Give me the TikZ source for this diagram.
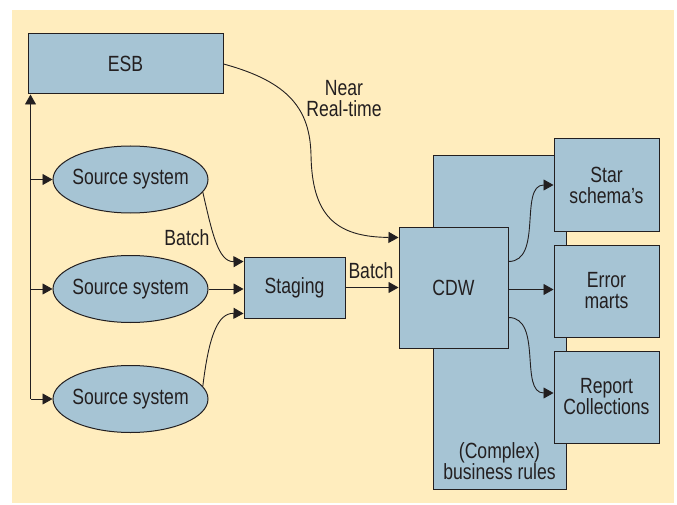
\documentclass[tikz,border=0pt]{standalone}
\usepackage{fontspec}
\setmainfont[FakeStretch=0.8]{Liberation Sans}
\usepackage{tikz}
\usetikzlibrary{arrows.meta,calc}
\usetikzlibrary{positioning,shapes.geometric}

\definecolor{paper}{RGB}{255,237,190}
\definecolor{boxblue}{RGB}{166,196,212}
\definecolor{edge}{RGB}{35,31,32}

\begin{document}
\begin{tikzpicture}[
  x=1pt, y=-1pt,
  font=\fontsize{22}{21}\selectfont,
  box/.style={draw=edge, fill=boxblue, line width=1pt, inner sep=0pt, align=center,
    text=edge},
  src/.style={ellipse, draw=edge, fill=boxblue, line width=1pt, inner ysep=0pt,
    inner xsep=-30pt, minimum width=155pt, minimum height=67pt, text=edge},
  flow/.style={-{Triangle[length=10pt,width=11pt]}, line width=0.9pt, color=edge},
  lbl/.style={align=center, inner sep=0pt, text=edge}
  ]

  % Background
  \useasboundingbox (0,0) rectangle (677,505);
  \fill[paper] (12,10) rectangle (674,503);

  % Sources
  \node[box, minimum width=195pt, minimum height=60pt] (esb) at (125.5,64) {ESB};
  \node[src] (src1) at (130.5,179.5) {Source system};
  \node[src] (src2) at (130.5,289) {Source system};
  \node[src] (src3) at (130.5,399) {Source system};

  % Staging and warehouse
  \node[box, minimum width=101pt, minimum height=61pt] (stg) at (294.5,287.5) {Staging};
  \node[box, minimum width=133pt, minimum height=333pt] (rules) at (499.5,322.5) {};
  \node[lbl, above=10pt of rules.south] (rulestxt) {(Complex)\\business rules};
  \node[box, minimum width=109pt, minimum height=121pt] (cdw) at (453.5,287.5) {CDW};

  % Outputs
  \node[box, minimum width=105pt, minimum height=92pt] (star) at (606.5,185) {Star\\schema's};
  \node[box, minimum width=105pt, minimum height=92pt] (err) at (606.5,291) {Error\\marts};
  \node[box, minimum width=105pt, minimum height=92pt] (rep) at (606.5,397) {Report\\Collections};

  % Labels
  \node[lbl] (nrt) at (344,99) {Near\\Real-time};
  \node[lbl] (batch1) at (187,238) {Batch};
  \node[lbl] (batch2) at (371,271) {Batch};

  % Spine on the left
  \coordinate (spinetop) at ([xshift=3pt]esb.south west);
  \draw[flow] (src3.west -| spinetop) -- (spinetop);
  \draw[flow] (src1.west -| spinetop) -- (src1.west);
  \draw[flow] (src2.west -| spinetop) -- (src2.west);
  \draw[flow] (src3.west -| spinetop) -- (src3.west);

  % Into staging
  \draw[flow] (src1.-10) .. controls (212,232) and (218,262) .. ([yshift=26pt]stg.west);
  \draw[flow] (src2.east) -- (src2.east -| stg.west);
  \draw[flow] (src3.10) .. controls (209,335) and (218,313) .. ([yshift=-26pt]stg.west);

  % Into the warehouse
  \draw[flow] (esb.east) .. controls (290,82) and (310,110) .. (311,155)
    .. controls (312,215) and (335,237) .. ([yshift=50pt]cdw.west);
  \draw[flow] (stg.east) -- (cdw.west);

  % Out of the warehouse
  \draw[flow] ([yshift=26pt]cdw.east) to[out=0, in=180] (star.west);
  \draw[flow] ([yshift=-2pt]cdw.east) -- ([yshift=-2pt]cdw.east -| err.west);
  \draw[flow] ([yshift=-30pt]cdw.east) to[out=0, in=180] ([yshift=4pt]rep.west);

\end{tikzpicture}
\end{document}
